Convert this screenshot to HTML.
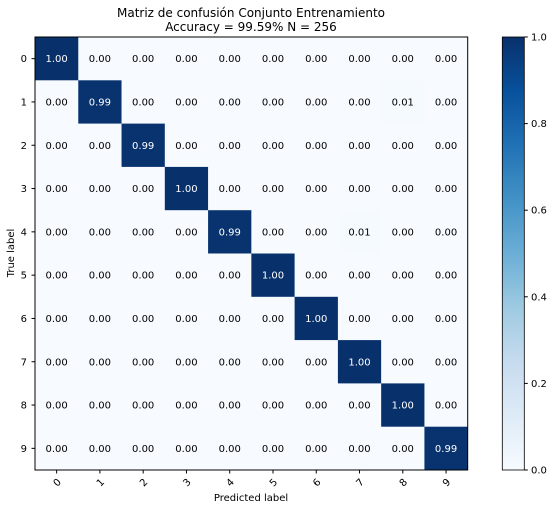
<!DOCTYPE html>
<html><head><meta charset="utf-8"><style>
body{margin:0;background:#fff}
text{font-family:"DejaVu Sans","Liberation Sans",sans-serif}
</style></head><body>
<svg id="c" width="554" height="510" xmlns="http://www.w3.org/2000/svg">
<defs><linearGradient id="g" x1="0" y1="1" x2="0" y2="0">
<stop offset="0" stop-color="#f7fbff"/><stop offset="0.125" stop-color="#deebf7"/><stop offset="0.25" stop-color="#c6dbef"/><stop offset="0.375" stop-color="#9ecae1"/><stop offset="0.5" stop-color="#6baed6"/><stop offset="0.625" stop-color="#4292c6"/><stop offset="0.75" stop-color="#2171b5"/><stop offset="0.875" stop-color="#08519c"/><stop offset="1" stop-color="#08306b"/></linearGradient></defs>
<text x="251" y="17" font-size="12" text-anchor="middle">Matriz de confusión Conjunto Entrenamiento</text>
<text x="251" y="31" font-size="12" text-anchor="middle">Accuracy = 99.59% N = 256</text>
<g id="cells"></g>
<rect x="35" y="37" width="432.7" height="433" fill="none" stroke="#000" stroke-width="1"/>
<g id="axes"></g>
<text x="251" y="501" font-size="10" text-anchor="middle">Predicted label</text>
<text x="14" y="253" font-size="10" text-anchor="middle" transform="rotate(-90 14 253)">True label</text>
<rect x="502.3" y="37" width="22" height="433" fill="url(#g)" stroke="#000" stroke-width="0.8"/>
<g id="cb"></g>
</svg>
<script>
const labels=["0","1","2","3","4","5","6","7","8","9"];
const matrix=[
[1.00,0,0,0,0,0,0,0,0,0],
[0,0.99,0,0,0,0,0,0,0.01,0],
[0,0,0.99,0,0,0,0,0,0,0],
[0,0,0,1.00,0,0,0,0,0,0],
[0,0,0,0,0.99,0,0,0.01,0,0],
[0,0,0,0,0,1.00,0,0,0,0],
[0,0,0,0,0,0,1.00,0,0,0],
[0,0,0,0,0,0,0,1.00,0,0],
[0,0,0,0,0,0,0,0,1.00,0],
[0,0,0,0,0,0,0,0,0,0.99]];
const cbTicks=[0,0.2,0.4,0.6,0.8,1.0];
const NS="http://www.w3.org/2000/svg";
const X0=35,Y0=37,W=432.7,H=433,n=labels.length,cw=W/n,ch=H/n;
const xs=i=>X0+i*cw, ys=i=>Y0+i*ch;
const stops=[[247,251,255],[222,235,247],[198,219,239],[158,202,225],[107,174,214],[66,146,198],[33,113,181],[8,81,156],[8,48,107]];
function color(v){const t=Math.max(0,Math.min(1,v))*8,i=Math.min(7,Math.floor(t)),f=t-i;const a=stops[i],b=stops[i+1];return `rgb(${a.map((c,k)=>Math.round(c+(b[k]-c)*f)).join(",")})`;}
function mk(tag,attrs,parent,txt){const e=document.createElementNS(NS,tag);for(const k in attrs)e.setAttribute(k,attrs[k]);if(txt!==undefined)e.textContent=txt;parent.appendChild(e);return e;}
const cells=document.getElementById("cells"),axes=document.getElementById("axes"),cb=document.getElementById("cb");
matrix.forEach((row,r)=>row.forEach((v,c)=>{
 const rc=mk("rect",{x:xs(c),y:ys(r),width:cw+0.3,height:ch+0.3,fill:color(v)},cells);
 
 
 const t=mk("text",{x:xs(c)+cw/2,y:ys(r)+ch/2+3.5,"font-size":10,"text-anchor":"middle",fill:v>0.5?"#fff":"#000"},cells,v.toFixed(2));
 
 
}));
labels.forEach((l,i)=>{
 const cx=xs(i)+cw/2,cy=ys(i)+ch/2;
 mk("line",{x1:cx,y1:Y0+H,x2:cx,y2:Y0+H+3.5,stroke:"#000"},axes);
 const tx=mk("text",{x:cx,y:Y0+H+16,"font-size":10,"text-anchor":"middle",transform:`rotate(-45 ${cx} ${Y0+H+12})`},axes,l);
 
 
 mk("line",{x1:X0-3.5,y1:cy,x2:X0,y2:cy,stroke:"#000"},axes);
 const ty=mk("text",{x:X0-8,y:cy+3.5,"font-size":10,"text-anchor":"end"},axes,l);
 
 
});
cbTicks.forEach(v=>{
 const y=470-v*433;
 mk("line",{x1:524.3,y1:y,x2:527.8,y2:y,stroke:"#000"},cb);
 const t=mk("text",{x:531,y:y+3.5,"font-size":10},cb,v.toFixed(1));
 
 
});
</script>
</body></html>
